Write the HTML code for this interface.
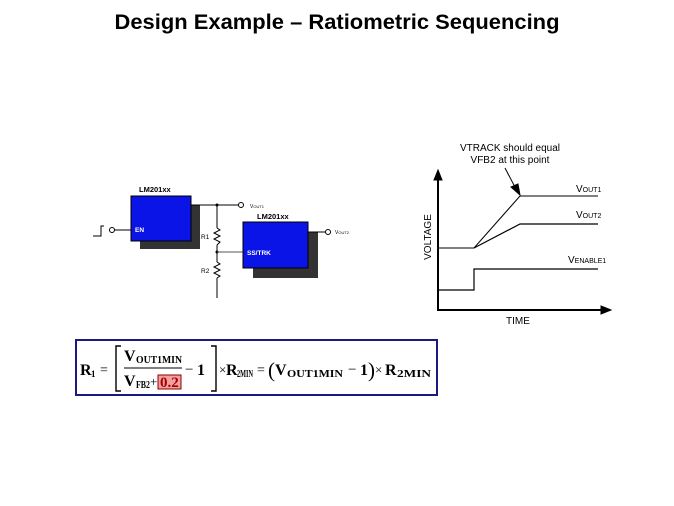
<!DOCTYPE html>
<html><head><meta charset="utf-8"><style>
html,body{margin:0;padding:0;background:#fff;}
svg{display:block;}
</style></head><body>
<svg width="674" height="506" viewBox="0 0 674 506" xmlns="http://www.w3.org/2000/svg">
<text x="337" y="29" text-anchor="middle" font-family="Liberation Sans, sans-serif" font-weight="bold" font-size="21" textLength="445" lengthAdjust="spacingAndGlyphs">Design Example – Ratiometric Sequencing</text>

<!-- circuit -->
<g font-family="Liberation Sans, sans-serif">
<rect x="140" y="205" width="60" height="44" fill="#333"/>
<rect x="131" y="196" width="60" height="45" fill="#0a14e6" stroke="#000" stroke-width="1"/>
<text x="139" y="192" font-size="7.5" font-weight="bold">LM201xx</text>
<text x="135" y="232" font-size="6.5" font-weight="bold" fill="#fff">EN</text>
<polyline points="93,236 101,236 101,226 104,226" fill="none" stroke="#000" stroke-width="1"/>
<circle cx="112" cy="230" r="2.5" fill="#fff" stroke="#000"/>
<line x1="114.5" y1="230" x2="131" y2="230" stroke="#000"/>
<polyline points="191,205 238.5,205" fill="none" stroke="#000"/>
<circle cx="241" cy="205" r="2.5" fill="#fff" stroke="#000"/>
<circle cx="217" cy="205" r="1.5" fill="#000"/>
<text x="250" y="208" font-size="5">V<tspan font-size="4">OUT1</tspan></text>
<line x1="217" y1="205" x2="217" y2="228" stroke="#000"/>
<polyline points="217,228 220,230 214,233 220,236 214,239 220,242 217,245" fill="none" stroke="#000"/>
<line x1="217" y1="245" x2="217" y2="262" stroke="#000"/>
<circle cx="217" cy="252" r="1.5" fill="#000"/>
<polyline points="217,262 220,264 214,267 220,270 214,273 220,276 217,278" fill="none" stroke="#000"/>
<line x1="217" y1="278" x2="217" y2="298" stroke="#000"/>
<text x="201" y="239" font-size="6.5">R1</text>
<text x="201" y="273" font-size="6.5">R2</text>
<line x1="217" y1="252" x2="243" y2="252" stroke="#555"/>
<rect x="253" y="232" width="65" height="46" fill="#333"/>
<rect x="243" y="222" width="65" height="46" fill="#0a14e6" stroke="#000" stroke-width="1"/>
<text x="257" y="219" font-size="7.5" font-weight="bold">LM201xx</text>
<text x="247" y="255" font-size="6.5" font-weight="bold" fill="#fff">SS/TRK</text>
<line x1="308" y1="232" x2="325.5" y2="232" stroke="#000"/>
<circle cx="328" cy="232" r="2.5" fill="#fff" stroke="#000"/>
<text x="335" y="234" font-size="5">V<tspan font-size="4">OUT2</tspan></text>
</g>

<!-- graph -->
<g font-family="Liberation Sans, sans-serif" fill="none" stroke="#000">
<line x1="438" y1="178" x2="438" y2="310" stroke-width="2"/>
<polygon points="438,170 434,180 442,180" fill="#000"/>
<line x1="437" y1="310" x2="603" y2="310" stroke-width="2"/>
<polygon points="611,310 601,306 601,314" fill="#000"/>
<polyline points="438,248 474,248 520,196 598,196" stroke-width="1"/>
<polyline points="474,248 520,224 598,224" stroke-width="1.2"/>
<polyline points="438,290 474,290 474,269 598,269" stroke-width="1.2"/>
<line x1="505" y1="168" x2="516" y2="189" stroke-width="1"/>
<polygon points="520,195 511,187 518,184" fill="#000"/>
</g>
<g font-family="Liberation Sans, sans-serif" font-size="10" fill="#000">
<text x="510" y="151" text-anchor="middle">VTRACK should equal</text>
<text x="510" y="163" text-anchor="middle">VFB2 at this point</text>
<text x="576" y="192">V<tspan font-size="7">OUT1</tspan></text>
<text x="576" y="218">V<tspan font-size="7">OUT2</tspan></text>
<text x="568" y="263">V<tspan font-size="7">ENABLE1</tspan></text>
<text x="518" y="324" text-anchor="middle">TIME</text>
<text transform="translate(431,237) rotate(-90)" text-anchor="middle">VOLTAGE</text>
</g>

<!-- formula -->
<rect x="76" y="340" width="361" height="55" fill="#fff" stroke="#1a1a80" stroke-width="2"/>
<g font-family="Liberation Serif, serif" font-weight="bold" fill="#000" lengthAdjust="spacingAndGlyphs">
<text x="80" y="375" font-size="16">R</text>
<text x="91" y="377" font-size="9">1</text>
<text x="100" y="374" font-size="14" font-weight="normal">=</text>
<polyline points="121,346 116,346 116,391 121,391" fill="none" stroke="#000" stroke-width="1.4"/>
<polyline points="211,346 216,346 216,391 211,391" fill="none" stroke="#000" stroke-width="1.4"/>
<text x="124" y="361" font-size="16">V</text>
<text x="136" y="363" font-size="10" textLength="46" lengthAdjust="spacingAndGlyphs">OUT1MIN</text>
<line x1="124" y1="368" x2="182" y2="368" stroke="#000" stroke-width="1"/>
<text x="124" y="386" font-size="16">V</text>
<text x="136" y="388" font-size="10" textLength="14" lengthAdjust="spacingAndGlyphs">FB2</text>
<text x="150" y="386" font-size="13" font-weight="normal">+</text>
<rect x="158" y="375" width="23" height="14" fill="#f4a0a0" stroke="#8b0000" stroke-width="1"/>
<text x="160" y="387" font-size="15" fill="#a00000">0.2</text>
<text x="185" y="374" font-size="15" font-weight="normal">−</text>
<text x="197" y="375" font-size="16">1</text>
<text x="219" y="374" font-size="13" font-weight="normal">×</text>
<text x="226" y="375" font-size="16">R</text>
<text x="237" y="377" font-size="10" textLength="16" lengthAdjust="spacingAndGlyphs">2MIN</text>
<text x="257" y="374" font-size="14" font-weight="normal">=</text>
<text x="268" y="377" font-size="21" font-weight="normal">(</text>
<text x="275" y="375" font-size="16">V</text>
<text x="287" y="377" font-size="10" textLength="56" lengthAdjust="spacingAndGlyphs">OUT1MIN</text>
<text x="348" y="374" font-size="15" font-weight="normal">−</text>
<text x="360" y="375" font-size="16">1</text>
<text x="368" y="377" font-size="21" font-weight="normal">)</text>
<text x="375" y="374" font-size="13" font-weight="normal">×</text>
<text x="385" y="375" font-size="16">R</text>
<text x="397" y="377" font-size="10" textLength="34" lengthAdjust="spacingAndGlyphs">2MIN</text>
</g>
</svg>
</body></html>
